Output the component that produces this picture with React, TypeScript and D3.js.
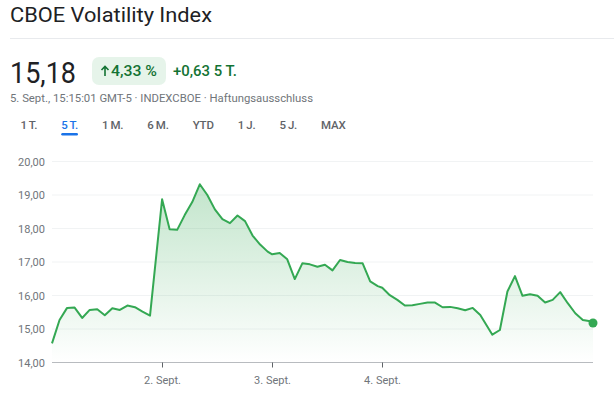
import * as d3 from 'd3';
import { useEffect, useRef } from 'react';

const width = 614;
const height = 397;

// one list per trading day, 30-minute steps
const day0 = [14.57, 15.27, 15.63, 15.64, 15.33, 15.57, 15.59, 15.41, 15.62, 15.57, 15.7, 15.65, 15.52, 15.4];
const day1 = [18.87, 17.98, 17.96, 18.4, 18.79, 19.32, 19.0, 18.57, 18.28, 18.16, 18.39, 18.22, 17.79, 17.52, 17.31];
const day2 = [17.23, 17.27, 17.08, 16.49, 16.96, 16.93, 16.86, 16.92, 16.75, 17.06, 17.0, 16.97, 16.96, 16.42, 16.28];
const day3 = [16.23, 16.01, 15.87, 15.7, 15.71, 15.75, 15.79, 15.79, 15.65, 15.66, 15.62, 15.56, 15.63, 15.42];
const day4 = [14.83, 14.97, 16.12, 16.58, 15.99, 16.04, 15.99, 15.79, 15.87, 16.1, 15.77, 15.47, 15.27, 15.23];
const closeValue = 15.18;
const closeSlot = 13.35;

const tickDays = [1, 2, 3];
const tickLabels = ['2. Sept.', '3. Sept.', '4. Sept.'];
const yTicks = [14, 15, 16, 17, 18, 19, 20];
const tabs = ['1 T.', '5 T.', '1 M.', '6 M.', 'YTD', '1 J.', '5 J.', 'MAX'];
const activeTab = '5 T.';

const slotsPerDay = 14.6;
const font = 'Roboto, Arial, sans-serif';
const green = '#34a853';

export default function App() {
  const containerRef = useRef<HTMLDivElement>(null);

  useEffect(() => {
    containerRef.current.innerHTML = '';

    const days = [day0, day1, day2, day3, day4];
    const points: { t: number; v: number }[] = [];
    days.forEach((vals, d) => {
      vals.forEach((v, i) => points.push({ t: d * slotsPerDay + i, v }));
    });
    points.push({ t: 4 * slotsPerDay + closeSlot, v: closeValue });

    const x = d3.scaleLinear().domain([0, 4 * slotsPerDay + closeSlot]).range([52, 593]);
    const y = d3.scaleLinear().domain([14, 20]).range([362.5, 161.5]);

    const svg = d3
      .select(containerRef.current)
      .append('svg')
      .attr('width', width)
      .attr('height', height)
      .style('position', 'absolute')
      .style('left', 0)
      .style('top', 0)
      .style('font-family', font);

    // header
    svg.append('text')
      .attr('x', 10).attr('y', 22)
      .attr('font-size', 21).attr('fill', '#202124')
      .attr('textLength', 202).attr('lengthAdjust', 'spacingAndGlyphs')
      .text('CBOE Volatility Index');

    svg.append('line')
      .attr('x1', 10).attr('x2', width).attr('y1', 38.5).attr('y2', 38.5)
      .attr('stroke', '#e8eaed');

    svg.append('text')
      .attr('x', 10).attr('y', 83)
      .attr('font-size', 30).attr('fill', '#202124')
      .attr('textLength', 66).attr('lengthAdjust', 'spacingAndGlyphs')
      .text('15,18');

    svg.append('rect')
      .attr('x', 92).attr('y', 57).attr('width', 74).attr('height', 28).attr('rx', 7)
      .attr('fill', '#e6f4ea');
    svg.append('path')
      .attr('d', 'M105 76V66.5M101.5 70L105 66.5L108.5 70')
      .attr('fill', 'none').attr('stroke', '#137333').attr('stroke-width', 1.6);
    svg.append('text')
      .attr('x', 111).attr('y', 76)
      .attr('font-size', 14.5).attr('font-weight', 500).attr('fill', '#137333')
      .attr('textLength', 46).attr('lengthAdjust', 'spacingAndGlyphs')
      .text('4,33 %');
    svg.append('text')
      .attr('x', 173).attr('y', 76)
      .attr('font-size', 14.5).attr('font-weight', 500).attr('fill', '#137333')
      .attr('textLength', 64).attr('lengthAdjust', 'spacingAndGlyphs')
      .text('+0,63 5 T.');

    svg.append('text')
      .attr('x', 10).attr('y', 102)
      .attr('font-size', 11).attr('fill', '#70757a')
      .attr('textLength', 303).attr('lengthAdjust', 'spacingAndGlyphs')
      .text('5. Sept., 15:15:01 GMT-5 · INDEXCBOE · Haftungsausschluss');

    // range tabs
    let tx = 20.5;
    tabs.forEach((label) => {
      const t = svg.append('text')
        .attr('x', tx).attr('y', 129)
        .attr('font-size', 11.5).attr('font-weight', 500)
        .attr('word-spacing', -0.5).attr('letter-spacing', -0.2)
        .attr('fill', label === activeTab ? '#1a73e8' : '#5f6368')
        .text(label);
      const w = (t.node() as SVGTextElement).getComputedTextLength();
      if (label === activeTab) {
        svg.append('rect')
          .attr('x', tx).attr('y', 133).attr('width', w).attr('height', 2.5).attr('rx', 1.2)
          .attr('fill', '#1a73e8');
      }
      tx += w + 24;
    });

    // grid + y labels
    svg.append('g')
      .selectAll('line')
      .data(yTicks.filter((d) => d > 14))
      .join('line')
      .attr('x1', 52).attr('x2', 593)
      .attr('y1', (d) => y(d)).attr('y2', (d) => y(d))
      .attr('stroke', '#f1f3f4');

    svg.append('g')
      .selectAll('text')
      .data(yTicks)
      .join('text')
      .attr('x', 45).attr('y', (d) => y(d) + 4)
      .attr('text-anchor', 'end')
      .attr('font-size', 11).attr('fill', '#70757a')
      .text((d) => d3.format('.2f')(d).replace('.', ','));

    // area + line
    const defs = svg.append('defs');
    const grad = defs.append('linearGradient')
      .attr('id', 'fillGrad')
      .attr('gradientUnits', 'userSpaceOnUse')
      .attr('x1', 0).attr('x2', 0)
      .attr('y1', y(d3.max(points, (p) => p.v)))
      .attr('y2', y(14));
    grad.append('stop').attr('offset', 0).attr('stop-color', green).attr('stop-opacity', 0.3);
    grad.append('stop').attr('offset', 1).attr('stop-color', green).attr('stop-opacity', 0);

    const area = d3.area<{ t: number; v: number }>()
      .x((d) => x(d.t)).y0(y(14)).y1((d) => y(d.v));
    const line = d3.line<{ t: number; v: number }>()
      .x((d) => x(d.t)).y((d) => y(d.v));

    svg.append('path').attr('d', area(points)).attr('fill', 'url(#fillGrad)');

    // x axis
    svg.append('line')
      .attr('x1', 52).attr('x2', 593).attr('y1', y(14)).attr('y2', y(14))
      .attr('stroke', '#b8bbbf');

    const xt = svg.append('g')
      .selectAll('g')
      .data(tickDays)
      .join('g')
      .attr('transform', (d) => `translate(${Math.round(x(d * slotsPerDay)) + 0.5},${y(14)})`);
    xt.append('line').attr('y1', 0).attr('y2', 5).attr('stroke', '#5f6368');
    xt.append('text')
      .attr('y', 21).attr('text-anchor', 'middle')
      .attr('font-size', 11).attr('fill', '#70757a')
      .text((d, i) => tickLabels[i]);

    svg.append('path')
      .attr('d', line(points))
      .attr('fill', 'none')
      .attr('stroke', green)
      .attr('stroke-width', 2)
      .attr('stroke-linejoin', 'round');

    const last = points[points.length - 1];
    svg.append('circle')
      .attr('cx', x(last.t)).attr('cy', y(last.v)).attr('r', 4.5)
      .attr('fill', green);
  }, []);

  return <div ref={containerRef}></div>;
}
